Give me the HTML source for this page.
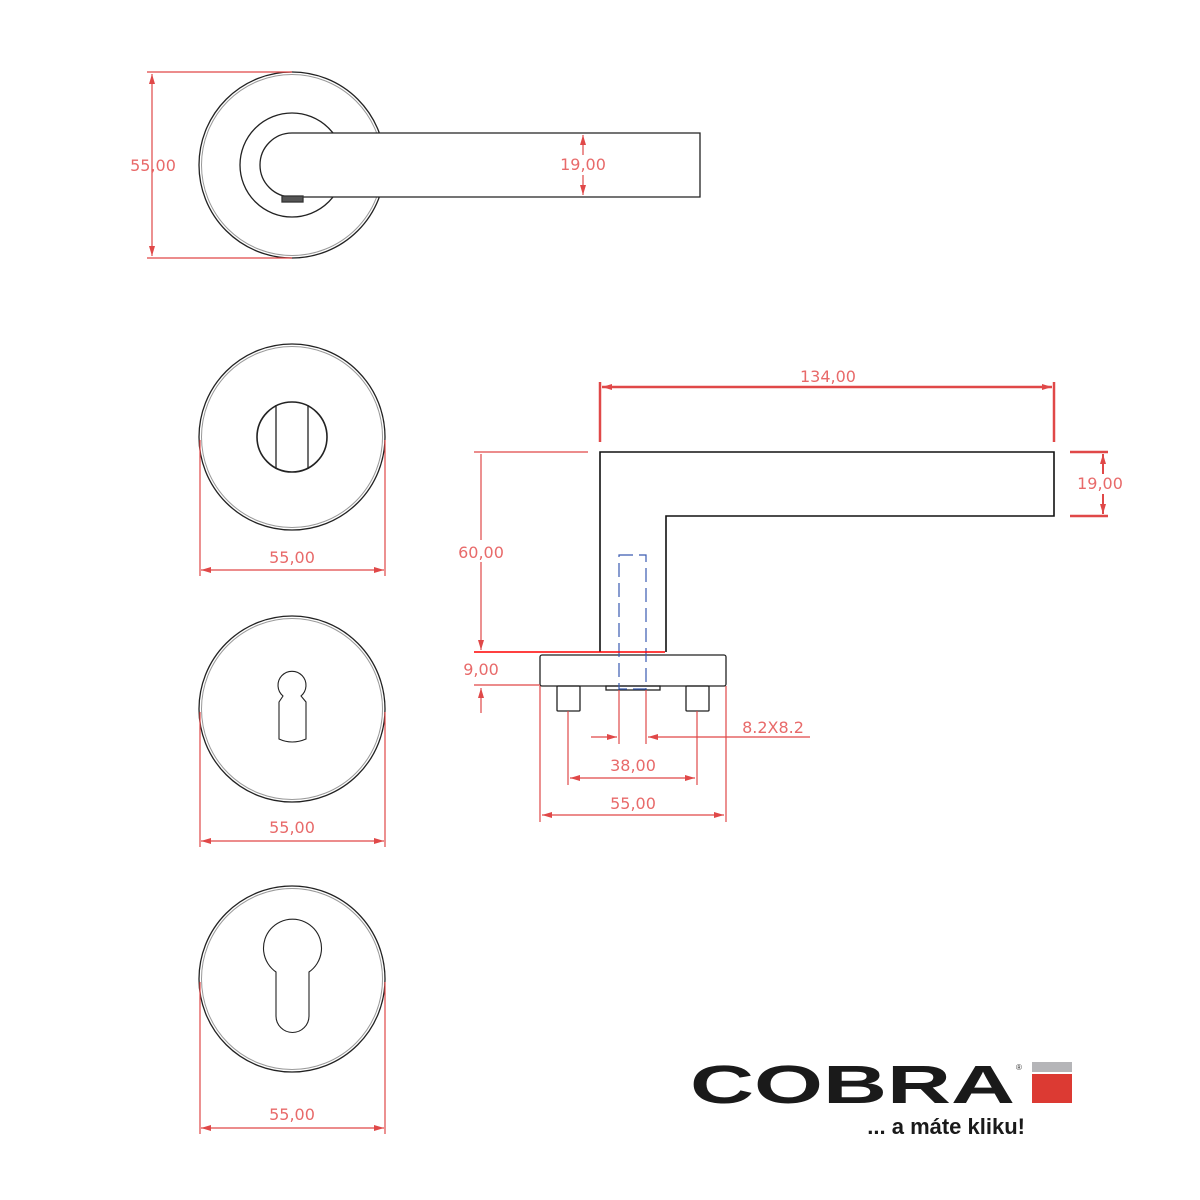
<!DOCTYPE html>
<html><head><meta charset="utf-8"><style>
html,body{margin:0;padding:0;background:#fff;width:1200px;height:1200px;overflow:hidden}
svg text.d{font-family:"DejaVu Sans","Liberation Sans",sans-serif;font-size:16px;fill:#e86a6a;text-anchor:middle}
</style></head><body>
<svg width="1200" height="1200" viewBox="0 0 1200 1200" xmlns="http://www.w3.org/2000/svg">
<defs>
<marker id="a" viewBox="0 0 10 6" refX="10" refY="3" markerWidth="14" markerHeight="6" markerUnits="userSpaceOnUse" orient="auto-start-reverse"><path d="M0,0L10,3L0,6z" fill="#e04848"/></marker>
</defs>
<g fill="none" stroke="#222" stroke-width="1.3">
<!-- top rosette -->
<circle cx="292" cy="165" r="93"/><circle cx="292" cy="165" r="90.5" stroke="#999" stroke-width="1"/>
<circle cx="292" cy="165" r="52"/>
<path d="M700,133 L292,133 A32,32 0 0 0 292,197 L700,197 Z" fill="#fff"/>
<rect x="282" y="196" width="21" height="6" fill="#555" stroke="#333"/>
<!-- rosette 2 -->
<circle cx="292" cy="437" r="93"/><circle cx="292" cy="437" r="90.5" stroke="#999" stroke-width="1"/>
<circle cx="292" cy="437" r="35" stroke-width="1.6"/>
<line x1="276" y1="405" x2="276" y2="469"/><line x1="308" y1="405" x2="308" y2="469"/>
<!-- rosette 3 -->
<circle cx="292" cy="709" r="93"/><circle cx="292" cy="709" r="90.5" stroke="#999" stroke-width="1"/>
<path d="M283,696 A14,14 0 1 1 301,696 L306,702 L306,739 Q292,745 279,739 L279,702 Z" stroke-width="1.1"/>
<!-- rosette 4 -->
<circle cx="292" cy="979" r="93"/><circle cx="292" cy="979" r="90.5" stroke="#999" stroke-width="1"/>
<path d="M276,972 A29,29 0 1 1 309,972 L309,1016 A16.5,16.5 0 0 1 276,1016 Z" stroke-width="1.1"/>
<!-- side view -->
<path d="M600,652 L600,452 L1054,452 L1054,516 L666,516 L666,652" stroke="#111" stroke-width="1.6"/>
<rect x="540" y="655" width="186" height="31" rx="2"/>
<rect x="606" y="686" width="54" height="4"/>
<rect x="557" y="686" width="23" height="25" rx="1"/>
<rect x="686" y="686" width="23" height="25" rx="1"/>
</g>
<rect x="619" y="555" width="27" height="134" fill="none" stroke="#3a5bb0" stroke-width="1.2" stroke-dasharray="14,6"/>
<g stroke="#e04848" stroke-width="1.2" fill="none">
<!-- top dims -->
<line x1="147" y1="72" x2="292" y2="72"/><line x1="147" y1="258" x2="292" y2="258"/>
<line x1="152" y1="74" x2="152" y2="256" marker-start="url(#a)" marker-end="url(#a)"/>
<line x1="583" y1="135" x2="583" y2="155" marker-start="url(#a)"/><line x1="583" y1="175" x2="583" y2="195" marker-end="url(#a)"/>
<!-- rosette dims -->
<line x1="200" y1="440" x2="200" y2="576"/><line x1="385" y1="440" x2="385" y2="576"/>
<line x1="201" y1="570" x2="384" y2="570" marker-start="url(#a)" marker-end="url(#a)"/>
<line x1="200" y1="712" x2="200" y2="847"/><line x1="385" y1="712" x2="385" y2="847"/>
<line x1="201" y1="841" x2="384" y2="841" marker-start="url(#a)" marker-end="url(#a)"/>
<line x1="200" y1="982" x2="200" y2="1134"/><line x1="385" y1="982" x2="385" y2="1134"/>
<line x1="201" y1="1128" x2="384" y2="1128" marker-start="url(#a)" marker-end="url(#a)"/>
<!-- 134 -->
<line x1="600" y1="382" x2="600" y2="442" stroke-width="2.5"/><line x1="1054" y1="382" x2="1054" y2="442" stroke-width="2.5"/>
<line x1="602" y1="387" x2="1052" y2="387" stroke-width="2.5" marker-start="url(#a)" marker-end="url(#a)"/>
<!-- 19 side -->
<line x1="1070" y1="452" x2="1108" y2="452" stroke-width="2.5"/><line x1="1070" y1="516" x2="1108" y2="516" stroke-width="2.5"/>
<line x1="1103" y1="454" x2="1103" y2="474" stroke-width="2" marker-start="url(#a)"/><line x1="1103" y1="494" x2="1103" y2="514" stroke-width="2" marker-end="url(#a)"/>
<!-- 60 -->
<line x1="474" y1="452" x2="588" y2="452"/>
<line x1="481" y1="454" x2="481" y2="540"/><line x1="481" y1="562" x2="481" y2="650" marker-end="url(#a)"/>
<line x1="474" y1="652" x2="665" y2="652" stroke="#f00" stroke-width="1.5"/>
<!-- 9 -->
<line x1="474" y1="685" x2="540" y2="685"/>
<line x1="481" y1="713" x2="481" y2="688" marker-end="url(#a)"/>
<!-- 8.2 -->
<line x1="619" y1="690" x2="619" y2="744"/><line x1="646" y1="690" x2="646" y2="744"/>
<line x1="591" y1="737" x2="617" y2="737" marker-end="url(#a)"/>
<line x1="810" y1="737" x2="648" y2="737" marker-end="url(#a)"/>
<!-- 38 -->
<line x1="568" y1="711" x2="568" y2="785"/><line x1="697" y1="711" x2="697" y2="785"/>
<line x1="570" y1="778" x2="695" y2="778" marker-start="url(#a)" marker-end="url(#a)"/>
<!-- 55 side -->
<line x1="540" y1="686" x2="540" y2="822"/><line x1="726" y1="686" x2="726" y2="822"/>
<line x1="542" y1="815" x2="724" y2="815" marker-start="url(#a)" marker-end="url(#a)"/>
</g>
<text class="d" x="153" y="171">55,00</text>
<text class="d" x="583" y="170" style="fill:#fff;stroke:#fff;stroke-width:4">19,00</text>
<text class="d" x="583" y="170">19,00</text>
<text class="d" x="292" y="563">55,00</text>
<text class="d" x="292" y="833">55,00</text>
<text class="d" x="292" y="1120">55,00</text>
<text class="d" x="828" y="382">134,00</text>
<text class="d" x="1100" y="489">19,00</text>
<text class="d" x="481" y="558">60,00</text>
<text class="d" x="481" y="675">9,00</text>
<text class="d" x="773" y="733">8.2X8.2</text>
<text class="d" x="633" y="771">38,00</text>
<text class="d" x="633" y="809">55,00</text>
<!-- logo -->
<text x="690" y="1103" font-family="Liberation Sans,sans-serif" font-weight="bold" font-size="54" fill="#1a1a1a" textLength="325" lengthAdjust="spacingAndGlyphs">COBRA</text>
<text x="1016" y="1070" font-family="Liberation Sans,sans-serif" font-size="8" fill="#333">®</text>
<rect x="1032" y="1062" width="40" height="10" fill="#b5b5b8"/>
<rect x="1032" y="1074" width="40" height="29" fill="#dc3a33"/>
<text x="1025" y="1134" text-anchor="end" font-family="Liberation Sans,sans-serif" font-weight="bold" font-size="22" fill="#1a1a1a">... a máte kliku!</text>
</svg>
</body></html>
